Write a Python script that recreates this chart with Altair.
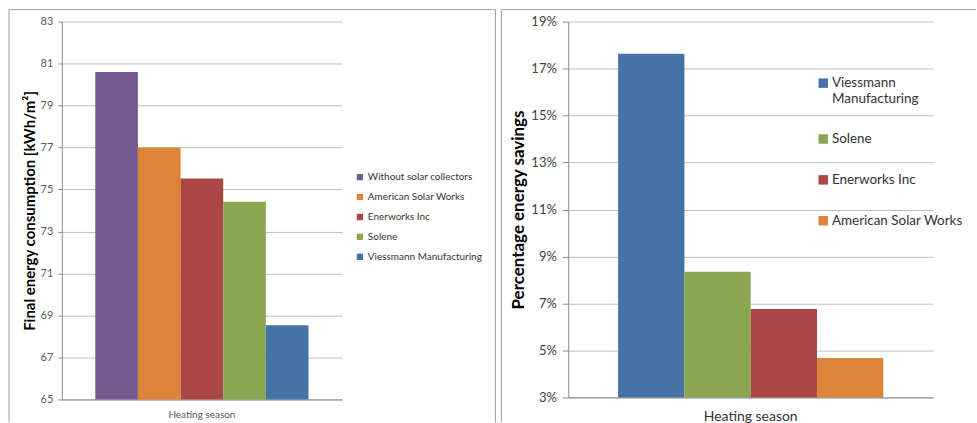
import altair as alt
import pandas as pd

# ---- data ----
season = "Heating season"
left_series = ["Without solar collectors", "American Solar Works", "Enerworks Inc",
               "Solene", "Viessmann Manufacturing"]
left_values = [80.6, 77.0, 75.53, 74.42, 68.53]
left_ticks = [65, 67, 69, 71, 73, 75, 77, 79, 81, 83]

right_series = ["Viessmann Manufacturing", "Solene", "Enerworks Inc", "American Solar Works"]
right_values = [0.1763, 0.0835, 0.0676, 0.0468]
right_ticks = [0.03, 0.05, 0.07, 0.09, 0.11, 0.13, 0.15, 0.17, 0.19]

colors = {
    "Without solar collectors": "#735A90",
    "American Solar Works": "#DE8439",
    "Enerworks Inc": "#AA4744",
    "Solene": "#8BA650",
    "Viessmann Manufacturing": "#4673A6",
}

FONT = "Lato"
FRAME = "#A0A0A0"
df_left = pd.DataFrame({"season": season, "series": left_series, "value": left_values})
df_right = pd.DataFrame({"season": season, "series": right_series, "value": right_values})
frame_df = pd.DataFrame({"a": [0]})

LW, LH = 281, 379
RW, RH = 366, 377


def frame_line(x1, x2, y1, y2):
    return alt.Chart(frame_df).mark_rule(color=FRAME, strokeWidth=1).encode(
        x=alt.value(x1), x2=alt.value(x2), y=alt.value(y1), y2=alt.value(y2))


# ---- left panel ----
left_bars = alt.Chart(df_left).mark_bar().encode(
    x=alt.X("season:N", scale=alt.Scale(paddingInner=0, paddingOuter=0.157),
            axis=alt.Axis(title=None, labelAngle=0, ticks=False, domainColor="#8C8C8C",
                          labelFontSize=10, labelColor="#595959", labelPadding=10,
                          labelFont=FONT)),
    xOffset=alt.XOffset("series:N",
                        scale=alt.Scale(domain=left_series, paddingInner=0, paddingOuter=0)),
    y=alt.Y("value:Q", scale=alt.Scale(domain=[65, 83], zero=False, nice=False),
            axis=alt.Axis(values=left_ticks, title="Final energy consumption [kWh/m²]",
                          titleFontSize=15, titleFont=FONT, titleFontWeight="bold",
                          titleColor="#000000", titlePadding=3,
                          labelFontSize=11, labelColor="#595959", labelFont=FONT,
                          labelPadding=5, tickSize=4, tickColor="#8C8C8C",
                          domainColor="#8C8C8C", gridColor="#BFBFBF")),
    y2=alt.datum(65),
    color=alt.Color("series:N",
                    scale=alt.Scale(domain=left_series, range=[colors[s] for s in left_series]),
                    legend=alt.Legend(title=None, orient="none", legendX=294, legendY=151,
                                      symbolType="square", symbolSize=40, symbolStrokeWidth=0,
                                      labelFontSize=10, labelFont=FONT, labelColor="#333333",
                                      rowPadding=10, labelOffset=3)),
)
left = alt.layer(
    frame_line(-53, 435, -12, -12),
    frame_line(-53, -53, -12, 402),
    frame_line(435, 435, -12, 402),
    left_bars,
).properties(width=LW, height=LH)

# ---- right panel ----
right_bars = alt.Chart(df_right).mark_bar().encode(
    x=alt.X("season:N", scale=alt.Scale(paddingInner=0, paddingOuter=0.188),
            axis=alt.Axis(title=None, labelAngle=0, ticks=False, domainColor="#8C8C8C",
                          labelFontSize=14, labelColor="#333333", labelPadding=12,
                          labelFont=FONT)),
    xOffset=alt.XOffset("series:N",
                        scale=alt.Scale(domain=right_series, paddingInner=0, paddingOuter=0)),
    y=alt.Y("value:Q", scale=alt.Scale(domain=[0.03, 0.19], zero=False, nice=False),
            axis=alt.Axis(values=right_ticks, format=".0%", title="Percentage energy savings",
                          titleFontSize=17, titleFont=FONT, titleFontWeight="bold",
                          titleColor="#000000", titlePadding=3,
                          labelFontSize=13, labelColor="#404040", labelFont=FONT,
                          labelPadding=6, tickSize=6, tickColor="#8C8C8C",
                          domainColor="#8C8C8C", gridColor="#BFBFBF")),
    y2=alt.datum(0.03),
    color=alt.Color("series:N",
                    scale=alt.Scale(domain=right_series, range=[colors[s] for s in right_series]),
                    legend=alt.Legend(title=None, orient="none", legendX=249, legendY=55,
                                      symbolType="square", symbolSize=90, symbolStrokeWidth=0,
                                      labelFontSize=13.5, labelFont=FONT, labelColor="#333333",
                                      rowPadding=26, labelOffset=2,
                                      labelExpr="datum.label == 'Viessmann Manufacturing' ? ['Viessmann', 'Manufacturing'] : datum.label")),
)
right = alt.layer(
    frame_line(-67, 409, -12, -12),
    frame_line(-67, -67, -12, 402),
    right_bars,
).properties(width=RW, height=RH)

chart = alt.hconcat(left, right, spacing=4).resolve_scale(
    color="independent", x="independent", y="independent", xOffset="independent"
).properties(
    padding={"left": 8, "top": 8, "right": 0, "bottom": 0}, background="white"
).configure_view(strokeWidth=0).configure_legend(labelLimit=300)

chart.save("out.html", embed_options={"renderer": "svg", "actions": False})
